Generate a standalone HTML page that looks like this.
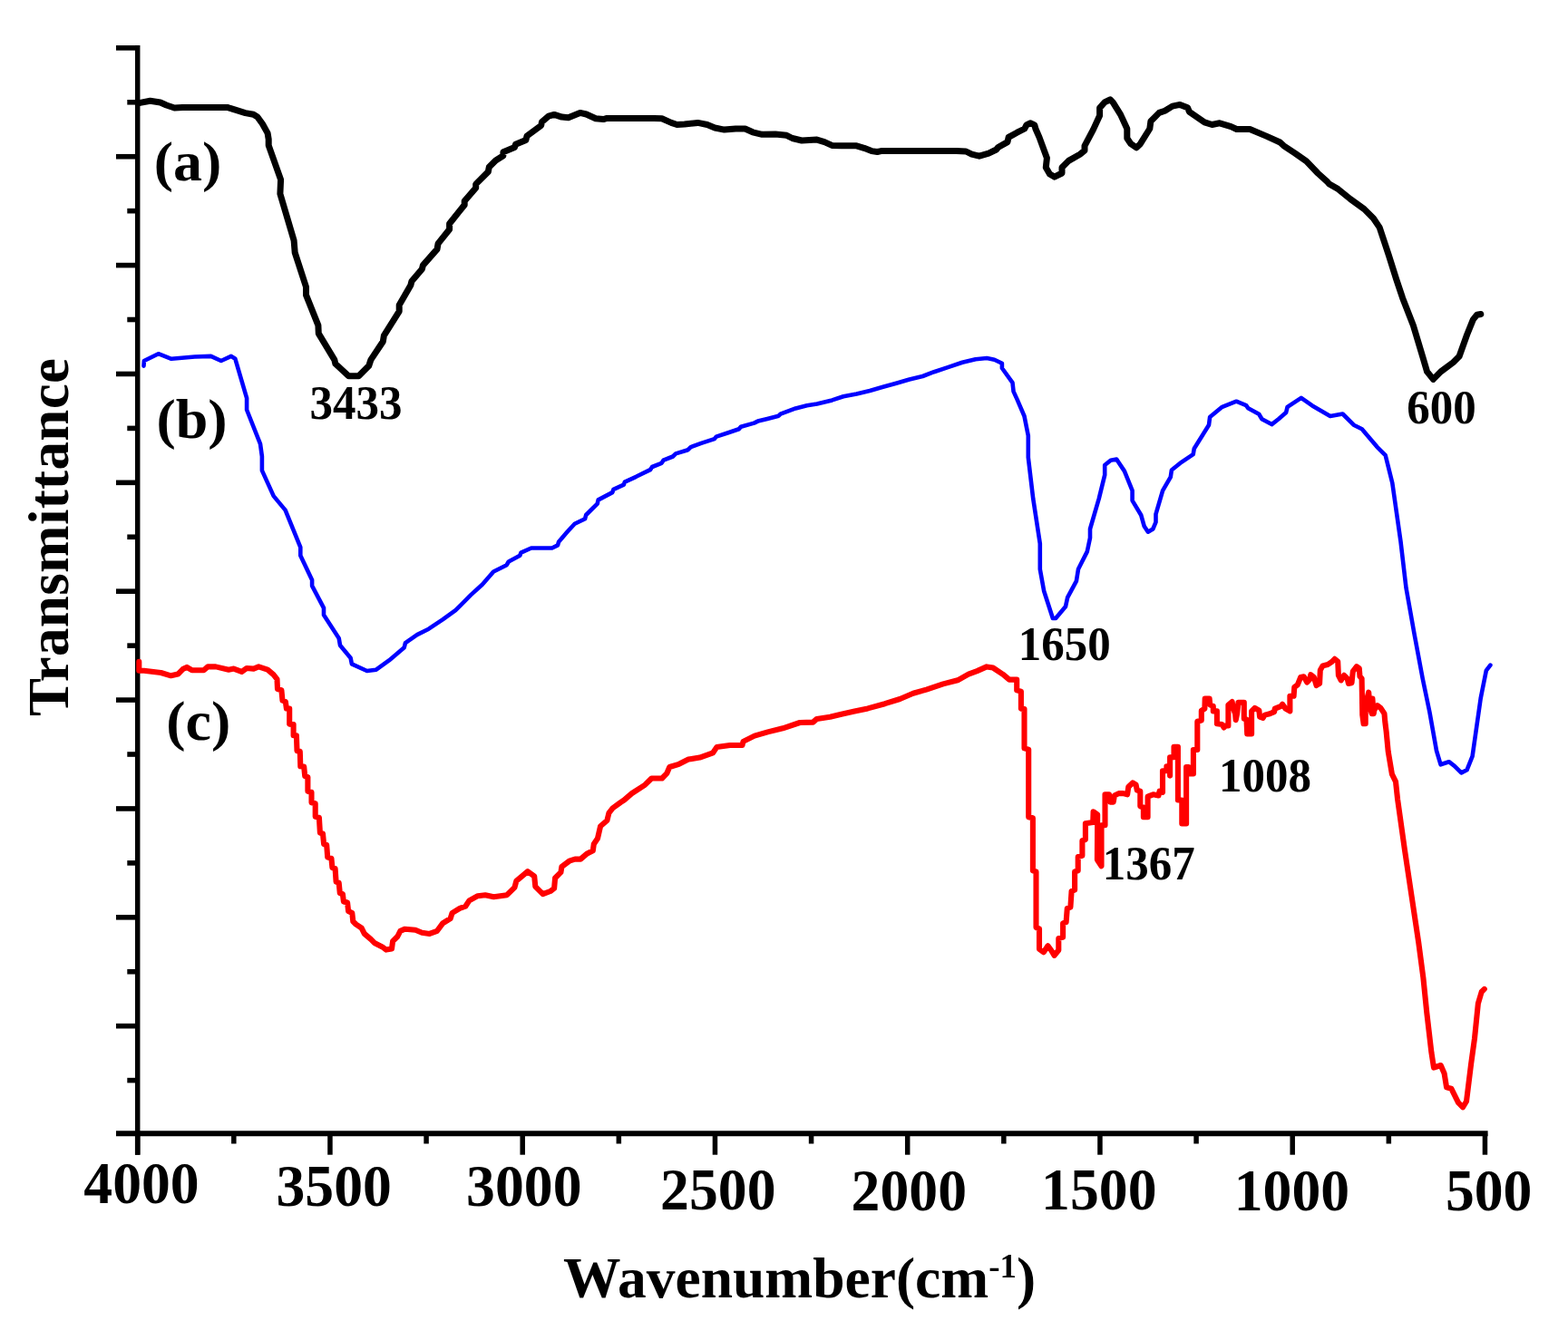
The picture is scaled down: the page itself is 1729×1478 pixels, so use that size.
<!DOCTYPE html>
<html><head><meta charset="utf-8"><style>
html,body{margin:0;padding:0;background:#fff;overflow:hidden;}
svg{display:block;}
text{font-family:"Liberation Serif","Times New Roman",serif;font-weight:bold;fill:#000;}
</style></head><body>
<svg width="1729" height="1478" viewBox="0 0 1729 1478">
<rect width="1729" height="1478" fill="#fff"/>
<g stroke="#000" fill="none" stroke-linecap="butt">
<line x1="151.7" y1="50" x2="151.7" y2="1273.7" stroke-width="5.5"/>
<line x1="128" y1="1250.3" x2="1640.6" y2="1250.3" stroke-width="6"/>
<g stroke-width="5.6">
<line x1="128" y1="52.85" x2="151.7" y2="52.85"/>
<line x1="128" y1="172.72" x2="151.7" y2="172.72"/>
<line x1="128" y1="292.59" x2="151.7" y2="292.59"/>
<line x1="128" y1="412.46" x2="151.7" y2="412.46"/>
<line x1="128" y1="532.33" x2="151.7" y2="532.33"/>
<line x1="128" y1="652.20" x2="151.7" y2="652.20"/>
<line x1="128" y1="772.07" x2="151.7" y2="772.07"/>
<line x1="128" y1="891.94" x2="151.7" y2="891.94"/>
<line x1="128" y1="1011.81" x2="151.7" y2="1011.81"/>
<line x1="128" y1="1131.68" x2="151.7" y2="1131.68"/>
<line x1="140.3" y1="112.78" x2="151.7" y2="112.78"/>
<line x1="140.3" y1="232.66" x2="151.7" y2="232.66"/>
<line x1="140.3" y1="352.53" x2="151.7" y2="352.53"/>
<line x1="140.3" y1="472.40" x2="151.7" y2="472.40"/>
<line x1="140.3" y1="592.27" x2="151.7" y2="592.27"/>
<line x1="140.3" y1="712.13" x2="151.7" y2="712.13"/>
<line x1="140.3" y1="832.01" x2="151.7" y2="832.01"/>
<line x1="140.3" y1="951.88" x2="151.7" y2="951.88"/>
<line x1="140.3" y1="1071.75" x2="151.7" y2="1071.75"/>
<line x1="140.3" y1="1191.61" x2="151.7" y2="1191.61"/>
</g>
<g stroke-width="5.5">
<line x1="151.70" y1="1250.3" x2="151.70" y2="1273.7"/>
<line x1="363.95" y1="1250.3" x2="363.95" y2="1273.7"/>
<line x1="576.20" y1="1250.3" x2="576.20" y2="1273.7"/>
<line x1="788.45" y1="1250.3" x2="788.45" y2="1273.7"/>
<line x1="1000.70" y1="1250.3" x2="1000.70" y2="1273.7"/>
<line x1="1212.95" y1="1250.3" x2="1212.95" y2="1273.7"/>
<line x1="1425.20" y1="1250.3" x2="1425.20" y2="1273.7"/>
<line x1="1637.45" y1="1250.3" x2="1637.45" y2="1273.7"/>
<line x1="257.82" y1="1250.3" x2="257.82" y2="1261.5"/>
<line x1="470.07" y1="1250.3" x2="470.07" y2="1261.5"/>
<line x1="682.33" y1="1250.3" x2="682.33" y2="1261.5"/>
<line x1="894.58" y1="1250.3" x2="894.58" y2="1261.5"/>
<line x1="1106.83" y1="1250.3" x2="1106.83" y2="1261.5"/>
<line x1="1319.08" y1="1250.3" x2="1319.08" y2="1261.5"/>
<line x1="1531.33" y1="1250.3" x2="1531.33" y2="1261.5"/>
</g>
</g>
<g fill="none" stroke-linejoin="round" stroke-linecap="round">
<polyline stroke="#000" stroke-width="7" points="152,113.5 154.5,113.4 165.6,111.2 176.8,113 183.5,116 192.4,119 201.3,118.4 250.5,118.4 259.4,121.2 270.5,124.6 279.5,126.3 283.9,129 289.5,136.8 295.1,146.9 296.2,153.6 296.2,160.3 309.6,198.2 308.9,213.8 324.1,265.2 325.2,278.6 337.5,316.5 337.5,325.4 350.9,358.9 351.3,367.9 368.8,396.9 369.9,401.3 384.4,414.7 395.5,414.7 406.7,403.6 408.9,396.9 422.3,376.8 423.4,370.1 440.2,343.3 440.2,336.6 452.9,314.4 453.9,310.3 465.4,296.7 466.4,292.6 482,274.9 483.1,268.6 495.6,253 495.6,246.8 512.2,226 512.2,221.8 524.7,207.2 524.7,203.1 538.3,189.5 539.3,184.3 546.6,177 554.9,171.8 554.9,167.7 567.4,162.5 568.5,159.3 579.9,154.5 581,150 596.6,138.5 597.6,134.4 604.9,128.1 611.1,126.4 619.5,129.1 626.7,129.8 639.6,124.4 646.5,126 656.9,130.8 665.3,131.6 669.4,130.4 721.5,130.4 729.8,130.8 740.2,135.4 746.5,137.5 754.8,137.1 769.4,135.4 779.8,137.5 788.3,141 798.7,143.1 811.2,142 821.6,142 830,145.8 840.4,148.3 855,147.9 867.4,149.3 873.7,152.5 884.1,155 900.8,154.1 909.1,156.6 917.4,160.4 927.8,160.8 944.5,160.8 952.8,163.3 961.1,166.6 967.4,167.5 971.5,166.6 1054.8,166.6 1065.2,167 1071.5,170.2 1079.8,172.2 1090.2,169.1 1098.6,165 1100.6,162.5 1111,156.6 1112.1,151.4 1121.5,146.2 1129.8,142 1131.9,137.9 1136,135.8 1140.8,137.9 1141.9,142 1146,151.4 1154.4,174.3 1153.3,184.7 1157.5,192 1162.7,195.1 1171,191 1171,184.7 1178.3,177.4 1190.8,170.2 1196,166 1196,160.8 1205.4,143.1 1212.6,127.5 1212.6,119.1 1217.9,112.9 1224.1,109.8 1227.2,112.9 1235.6,126.4 1242.8,142 1242.8,152.5 1247,158.7 1253.2,162.9 1257.4,158.7 1267.8,142 1268.9,133.7 1278.2,124.4 1284.5,122.3 1292.8,117.1 1301.1,115.4 1309.5,118.7 1311.5,123.3 1328.2,134.8 1336.5,137.5 1344.9,135.8 1357.4,139.6 1363.6,142.5 1378.2,142.5 1396.9,150.4 1411.5,157 1415.6,160.8 1428.1,169.1 1440.6,177.9 1453.1,191 1463.5,200.3 1465.4,202.7 1475.5,208.6 1489.1,219.6 1504.3,230.6 1514.4,240.7 1521.2,250.9 1531.3,281.3 1539.8,308.4 1546.6,328.7 1558.4,359.1 1568.6,393 1573.6,409.9 1580.4,418.4 1588.8,409.9 1602.4,399.7 1609.1,393 1617.6,369.3 1624.4,352.4 1628.6,347.3 1632.8,346.5"/>
<polyline stroke="#0000ff" stroke-width="4.6" points="158.5,403.6 158.9,398 174.6,390.2 189,395.8 214.7,393.5 232.6,392.9 243.8,398 254.9,392.9 259.4,395.8 272.1,439.1 272.1,452 287,489.6 288.9,503.4 288.9,518.9 301.7,547.1 314.6,562.6 331.3,603.7 331.3,612.7 344.1,639.7 344.1,646.1 357,670.6 357,678.3 373.7,704 375,711.7 386.6,725.8 387.9,732.3 404.6,740 414.8,738.7 429,728.4 445.7,714.3 447,709.1 459.9,700.1 472.7,693.7 488.1,683.4 502.3,673.1 519,656.4 531.8,644.8 544.2,630.5 558.7,623.2 560.8,619.5 573.3,612.8 574.4,609.7 585.8,604.5 608.7,604.5 615,601.4 616,597.8 625.4,586.8 633.7,577.8 645.1,572.2 646.2,568 658.7,555.6 659.7,551.4 675.3,543.1 676.4,539.9 687.8,534.7 688.9,531.6 701.4,525.8 717,518.1 719.1,515 729.5,510.8 731.5,507.7 742,503.5 745.1,500.4 758.6,496.2 761.7,493.1 773.2,488.9 787.8,484.1 789.8,481.6 802.3,477.5 814.8,473.3 816.9,470.8 831.5,466.6 835.6,464.6 846.1,461.9 858.6,458.7 860.6,456.7 877.3,450.4 889.8,447.3 900.8,445.6 917.5,441.4 930,437.3 944.5,434.5 959.1,431 973.7,426.8 988.3,422.7 1002.8,418.5 1017.4,415 1029.9,410.2 1044.5,405.4 1061.1,399.8 1075.7,396.2 1088.2,395 1096.5,396.7 1104.9,400.8 1104.9,406 1116.5,422.2 1117.6,431.9 1121.5,440.4 1129.5,459 1133.8,480.6 1133.8,504.4 1139.2,549.9 1146.8,599.7 1146.8,627.8 1151.1,651.7 1160.9,682 1164.1,682 1175,669 1177.1,659.2 1186.9,640.8 1189,627.8 1198.8,608.4 1202,593.2 1202,583.5 1211.8,549.9 1218.2,523.9 1218.2,513.1 1224.7,507.7 1231.2,506.6 1239.9,519.6 1248.6,541.2 1248.6,552.1 1258.3,568.3 1261.6,580.2 1265.9,586.7 1271.3,583.5 1274.5,575.9 1274.5,567.2 1282.1,541.2 1290.8,526.1 1291.9,518.5 1302.7,509.8 1315.7,501.2 1316.8,494.7 1333,468.7 1334.1,460.1 1347.1,449.2 1363.3,442.7 1374.1,447.1 1376.3,450.3 1388.2,456.8 1391.5,462.2 1402.3,468.1 1409.8,462.2 1418.1,455 1419.6,448.9 1434.8,438.9 1447,447.4 1466.8,459 1480.5,456.5 1492.7,468.7 1501.8,473.3 1510.9,483.9 1518.6,493.1 1527.7,502.2 1535.3,532.7 1544.4,596.6 1550.5,648.4 1559.7,700.1 1568.8,748.9 1576.4,785.4 1584,828 1588.6,843.3 1597.7,840.2 1603.8,844.8 1611.4,852.4 1617.5,849.3 1623.6,834.1 1632.7,770.2 1638.8,739.7 1643.4,733.6"/>
<polyline stroke="#ff0000" stroke-width="6.1" points="153.3,729.9 153.3,739.8 158.8,739.8 177.5,742 188.5,745.3 196.2,743.6 201.6,738.1 206,735.9 211.5,739.2 224.7,739.2 229.1,735.4 237.9,735.4 252.2,738.7 257.7,737.6 266.5,740.9 272,737 279.7,737.6 285.2,735.4 295.1,738.7 301.6,744.2 305.5,749.1 306,760.1 310.4,761.2 311.5,772.7 314.8,773.8 315.9,781.5 319.2,781.5 319.2,798.6 323.6,799.1 323.6,811.2 326.9,811.2 327.5,828.2 330.8,828.8 331.3,845.3 335.2,845.6 336.2,856 339.4,857.1 339.4,872.7 343.5,873.7 343.5,885.2 347.7,886.2 347.7,900.8 351.9,901.8 352.9,918.5 356,919.5 357.1,931 360.2,932 361.2,945.6 365.4,946.6 366.4,957 369.6,958 370.6,972.6 373.7,973.7 374.8,985.1 377.9,986.2 378.9,994.5 383.1,995.5 384.1,1004.9 388.3,1007 389.3,1016.3 392.5,1019.5 398.7,1023.6 401.8,1029.9 409.1,1036.1 413.3,1040.3 421.6,1044.4 425.8,1047.6 432,1046.5 433.1,1038.2 438.3,1033 441.4,1026.8 446.6,1024.7 458,1025.7 465.3,1028.8 473.7,1029.9 482,1026.8 488.2,1018.4 496.6,1013.2 498.6,1007 507,1001.8 513.2,999.7 517.4,993.4 526.8,988.2 535.1,987.2 544.4,989.3 559,987.2 567.4,978.9 569.4,971.6 575.7,966.4 581.9,961.2 589.2,966.4 590.3,977.8 598.6,986.2 606.9,983 611.1,979.9 612.1,968.5 618.4,962.2 619.4,956 627.7,949.7 634,947.6 640.2,947.6 647.5,941.4 653.8,938.3 654.8,931 659,924.7 662.1,911.2 669.4,905 671.5,896.6 675.6,891.4 684,885.2 688.3,882.4 696.7,875.1 711.2,865.7 718.5,858.5 730,858.5 735.2,853.2 738.3,846 748.7,842.8 759.1,837.6 771.6,835.6 786.2,830.3 790.3,824.1 804.9,822 818.5,822 819.5,817.9 832,811.6 846.6,807.4 863.2,803.3 882,797 896.5,796.6 900.7,792.9 915.3,790.8 927.8,787.7 942.3,784.5 956.9,781.4 975.7,776.2 992.3,771 1006.9,764.8 1021.5,760.6 1040,754.4 1056,750.3 1067.9,743.7 1077.4,740.1 1088,735.4 1095.1,736.6 1105.8,743.7 1112.9,749.6 1121.2,749.6 1121.2,761.4 1125.9,762.6 1125.9,781.6 1129.5,782 1129.5,825.4 1134.2,826.6 1134.2,901.2 1138.9,902.3 1138.9,960.4 1142.5,961.5 1142.5,1023.1 1146,1024.3 1146,1046.8 1150.8,1050.3 1155.5,1043.2 1159,1048 1162.6,1053.9 1167.3,1048 1167.3,1034.9 1172.1,1033.8 1172.1,1018.4 1175.6,1017.2 1176.8,1001.8 1180.4,1000.6 1181.6,982.8 1185.1,981.7 1185.1,961.5 1188.7,960.4 1188.7,945 1193.4,943.8 1193.4,927.2 1196.9,926 1196.9,908.3 1205.2,907.1 1205.6,895.2 1210.2,898.4 1209.9,948.2 1214.5,955.2 1214.5,910.3 1218.5,910.3 1218.5,876.3 1223,876.3 1224.2,884.6 1227.7,884.6 1228.9,877.5 1233.6,875.1 1238.4,875.1 1243.1,876.3 1244.3,868 1249,863.3 1252.6,865.6 1253.8,871.6 1257.3,872.7 1257.3,889.3 1260.9,890.5 1260.9,901.2 1265.6,901.2 1265.6,878.7 1271.5,876.3 1277.5,877.5 1278.6,872.7 1282,873.9 1282,850.2 1286.4,850.2 1286.4,845.4 1290.1,845.4 1290.1,855.6 1290.1,835.3 1294.5,835.3 1294.5,823.8 1298.9,823.8 1298.9,882.5 1303.3,882.5 1303.3,908.5 1308.1,908.5 1308.1,846 1310.5,846 1310.5,853.5 1315.9,853.5 1315.9,827 1320.3,827 1320.3,795.8 1324.8,794.6 1324.8,783.9 1328.4,781.6 1328.7,770.5 1333.6,770.5 1334.3,777.5 1337.8,778.9 1337.8,784.4 1341.9,784.4 1341.9,798.3 1347.5,799 1349.6,802.5 1351.6,800.4 1354.4,800.4 1354.4,777.5 1358.6,774 1360,781.6 1362.1,787.2 1362.7,794.1 1364.1,787.2 1365.5,774.7 1371.8,774.7 1371.8,792.7 1374.5,793.4 1375.2,809.4 1380.1,809.4 1380.1,784.4 1383.6,780.9 1388.4,783.7 1389.1,790.7 1392.6,792 1394.7,788.6 1400.2,787.2 1405.1,785.1 1405.8,781.6 1412.7,778.9 1414.1,776.8 1417.6,781.6 1422.4,784.4 1422.4,767.7 1426.6,767.7 1427.3,758 1430.8,755.3 1434.2,746.9 1437.7,746.2 1441.2,752.5 1444,749.7 1445.3,744.2 1448.8,746.9 1451.6,756 1455.1,753.9 1455.8,739.3 1458.5,734.4 1464.1,733 1468.2,730.3 1471.7,726.8 1475.2,729.6 1475.9,744.8 1478.7,750.4 1482.1,744.8 1485.6,748.3 1487,753.9 1490.5,753.2 1491.8,740.7 1496,735.1 1498.8,737.2 1499.5,746.2 1501.6,748.3 1502.3,788.6 1503.6,798.3 1505.7,798.3 1505.7,777.5 1509.2,763.6 1510.6,780.2 1512.7,787.2 1513.4,770.5 1514.7,787.2 1515.4,783 1518.9,778.2 1522.4,780.9 1526.5,787.2 1527.2,795.5 1528.6,806.6 1530.7,828.8 1534.9,853.8 1539,862.1 1541.1,881.6 1548.9,937.1 1556.6,988.6 1564.3,1040 1569.4,1078.6 1573.3,1117.1 1578.4,1160.8 1581,1177.6 1588.7,1175 1592.6,1184 1595.1,1199.4 1600.3,1200.7 1608,1216.1 1613.1,1221.3 1617,1214.8 1622.1,1173.7 1626,1145.4 1629.9,1106.8 1633.7,1094 1636.8,1090.9"/>
</g>
<text font-size="64.80" text-anchor="middle" transform="translate(156.00,1326.70) scale(0.9830,1)">4000</text>
<text font-size="64.80" text-anchor="middle" transform="translate(368.20,1330.40) scale(0.9830,1)">3500</text>
<text font-size="64.80" text-anchor="middle" transform="translate(577.80,1330.40) scale(0.9830,1)">3000</text>
<text font-size="64.80" text-anchor="middle" transform="translate(791.80,1333.50) scale(0.9830,1)">2500</text>
<text font-size="64.80" text-anchor="middle" transform="translate(1002.30,1335.00) scale(0.9830,1)">2000</text>
<text font-size="64.80" text-anchor="middle" transform="translate(1211.80,1333.70) scale(0.9830,1)">1500</text>
<text font-size="64.80" text-anchor="middle" transform="translate(1424.40,1335.00) scale(0.9830,1)">1000</text>
<text font-size="64.80" text-anchor="middle" transform="translate(1641.70,1334.90) scale(0.9830,1)">500</text>
<text font-size="53.70" text-anchor="middle" transform="translate(392.60,461.90) scale(0.9500,1)">3433</text>
<text font-size="53.70" text-anchor="middle" transform="translate(1589.60,467.30) scale(0.9500,1)">600</text>
<text font-size="53.70" text-anchor="middle" transform="translate(1173.70,727.80) scale(0.9500,1)">1650</text>
<text font-size="53.70" text-anchor="middle" transform="translate(1266.80,969.90) scale(0.9500,1)">1367</text>
<text font-size="53.70" text-anchor="middle" transform="translate(1395.00,873.30) scale(0.9500,1)">1008</text>
<text font-size="61.50" text-anchor="middle" transform="translate(207.10,198.50) scale(1.0400,1)">(a)</text>
<text font-size="61.50" text-anchor="middle" transform="translate(211.50,483.10) scale(1.0400,1)">(b)</text>
<text font-size="61.50" text-anchor="middle" transform="translate(218.70,815.60) scale(1.0400,1)">(c)</text>
<text font-size="63" letter-spacing="0.35" text-anchor="middle" transform="translate(75.3,592.4) rotate(-90)">Transmittance</text>
<text font-size="63.5" x="621" y="1431" letter-spacing="0">Wavenumber(cm<tspan font-size="37" dy="-22">-1</tspan><tspan dy="22">)</tspan></text>
</svg>
</body></html>
